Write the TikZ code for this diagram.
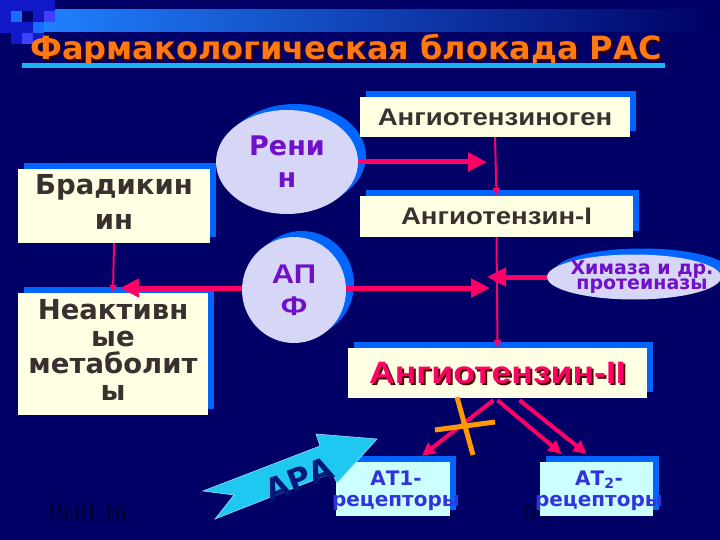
\documentclass[tikz,border=0pt]{standalone}
\usepackage{fontspec}
\setmainfont{DejaVu Sans}
\newfontfamily\arialfont[FakeStretch=1.15]{Liberation Sans}
\newfontfamily\timesfont{Liberation Serif}
\usetikzlibrary{shapes.geometric,shadows,arrows.meta}

\definecolor{bgnavy}{RGB}{0,0,102}
\definecolor{boxcream}{RGB}{255,255,228}
\definecolor{shadowblue}{RGB}{0,102,255}
\definecolor{arrowred}{RGB}{255,0,102}
\definecolor{titleorange}{RGB}{255,120,16}
\definecolor{textgray}{RGB}{58,48,48}
\definecolor{enzviolet}{RGB}{112,16,200}
\definecolor{recblue}{RGB}{51,51,221}
\definecolor{reccyan}{RGB}{204,255,255}
\definecolor{aracyan}{RGB}{30,200,240}
\definecolor{aratext}{RGB}{0,24,120}
\definecolor{xorange}{RGB}{255,153,0}
\definecolor{lavender}{RGB}{214,214,246}
\definecolor{sqmid}{RGB}{16,24,200}
\definecolor{sqbright}{RGB}{26,108,255}
\definecolor{sqlilac}{RGB}{64,64,255}
\definecolor{bandblue}{RGB}{32,128,255}

\tikzset{
  x=1pt, y=-1pt,
  sbox/.style={rectangle, fill=boxcream, inner sep=0pt, align=center,
    text=textgray, copy shadow={shadow xshift=6pt, shadow yshift=6pt,
    fill=shadowblue, draw=none}},
  enzyme/.style={ellipse, fill=lavender, inner sep=0pt, align=center,
    text=enzviolet, copy shadow={shadow xshift=8pt, shadow yshift=6pt,
    fill=shadowblue, draw=none}},
  recbox/.style={rectangle, fill=reccyan, inner sep=0pt,
    copy shadow={shadow xshift=6pt, shadow yshift=6pt, fill=shadowblue, draw=none}},
  rectext/.style={align=center, text=recblue, inner sep=0pt,
    font=\fontsize{20}{21}\selectfont\bfseries},
  bigarrow/.style={draw=arrowred, line width=5pt, -{Triangle[length=19pt,width=18pt]}},
  thinarrow/.style={draw=arrowred, line width=2pt, -{Triangle[length=8pt,width=7pt]}},
  midarrow/.style={draw=arrowred, line width=4pt, -{Triangle[length=13pt,width=13pt]}},
}

\begin{document}
\begin{tikzpicture}
\fill[bgnavy] (0,0) rectangle (720,540);
\useasboundingbox (0,0) rectangle (720,540);

% corner squares and band
\shade[left color=bandblue, right color=bgnavy] (42,10) rectangle (715,32);
\fill[sqmid] (0,0) rectangle (44,44);
\fill[sqmid] (44,0) rectangle (55,11);
\fill[sqbright] (11,11) rectangle (22,22);
\fill[bgnavy] (22,11) rectangle (33,22);
\fill[sqlilac] (44,11) rectangle (55,22);
\fill[sqbright] (33,22) rectangle (44,33);
\fill[sqlilac] (22,33) rectangle (33,44);
\fill[bgnavy] (0,33) rectangle (11,44);

% title
\node[text=black!80!red, font=\fontsize{32}{32}\selectfont\bfseries] at (348,52) {Фармакологическая блокада РАС};
\node[text=titleorange, font=\fontsize{32}{32}\selectfont\bfseries] (title) at (346,50) {Фармакологическая блокада РАС};
\fill[cyan!90!white] (22,63) rectangle (665,68);

% boxes
\node[enzyme, minimum width=142pt, minimum height=104pt,
  font=\fontsize{27}{32}\selectfont\bfseries] (renin) at (287,162) {Рени\\н};
\node[sbox, minimum width=270pt, minimum height=40pt,
  font=\fontsize{24}{26}\selectfont\arialfont\bfseries] (agen) at (495,117) {Ангиотензиноген};
\node[sbox, minimum width=273pt, minimum height=41pt,
  font=\fontsize{24}{26}\selectfont\arialfont\bfseries] (ang1) at (496.5,216.5) {Ангиотензин-I};
\node[sbox, minimum width=192pt, minimum height=74pt,
  font=\fontsize{27.5}{35}\selectfont\bfseries] (brad) at (114,206) {Брадикин\\ин\rule[-9pt]{0pt}{1pt}};
\node[enzyme, minimum width=104pt, minimum height=106pt,
  font=\fontsize{27}{32}\selectfont\arialfont\bfseries] (apf) at (294,290) {АП\\Ф};
\node[sbox, minimum width=190pt, minimum height=122pt,
  font=\fontsize{27.5}{27}\selectfont\bfseries] (inact) at (113,354) {Неактивн\\ые\\метаболит\\ы\rule[-9pt]{0pt}{1pt}};
\node[enzyme, minimum width=174pt, minimum height=45pt] (chym) at (634,277) {};
\node[text=enzviolet, align=center, inner sep=0pt,
  font=\fontsize{19}{13.5}\selectfont\bfseries] (chymtxt) at (642,277) {Химаза и др.\\протеиназы};
\node[sbox, minimum width=299pt, minimum height=50pt] (ang2) at (497.5,373) {};
\node[text=black!70!red, font=\fontsize{31}{31}\selectfont\arialfont\bfseries] at (499.5,375) {Ангиотензин-II};
\node[text=arrowred, font=\fontsize{31}{31}\selectfont\arialfont\bfseries] (ang2txt) at (ang2) {Ангиотензин-II};

% free ends
\coordinate (j1) at (487,162);
\coordinate (j2) at (490,288);
\coordinate (j3) at (487,277);
\coordinate (j4) at (120,288);

% arrows
\draw[bigarrow] (renin.east) -- (j1);
\draw[thinarrow] (agen.south) -- (ang1.north);
\draw[thinarrow] (brad.south) -- (inact.north);
\draw[bigarrow] ([yshift=2pt]apf.west) -- (j4);
\draw[bigarrow] ([yshift=2pt]apf.east) -- (j2);
\draw[bigarrow] (chym.west) -- (j3);
\draw[thinarrow] (ang1.south) -- (ang2.north);

% page number and date
\node[text=black!85!blue, font=\fontsize{23}{23}\selectfont\timesfont] (page) at (536,513) {93};
\node[text=black!85!blue, font=\fontsize{23}{23}\selectfont\timesfont] (date) at (86,513) {19.01.16};

% receptors
\node[recbox, minimum width=114pt, minimum height=54pt] (at1) at (393,489) {};
\node[rectext] (at1txt) at (396,491) {АТ1-\\рецепторы};
\node[recbox, minimum width=113pt, minimum height=54pt] (at2) at (596.5,489) {};
\node[rectext] (at2txt) at (599,491) {АТ$_{\mathbf 2}$-\\рецепторы};

\draw[midarrow] ([xshift=-4pt,yshift=-2pt]ang2.south) -- ([xshift=29pt,yshift=6pt]at1.north);
\draw[midarrow] ([yshift=-2pt]ang2.south) -- ([xshift=-35pt,yshift=8pt]at2.north);
\draw[midarrow] ([xshift=22pt,yshift=-2pt]ang2.south) -- ([xshift=-10pt,yshift=8pt]at2.north);

% blocked path
\draw[xorange, line width=5pt] (457,397) -- (473,455);
\draw[xorange, line width=5pt] (435,430) -- (495,422);

% ARA arrow
\filldraw[fill=aracyan, draw=cyan!40!white, line width=0.6pt]
  (203,491) -- (320,446) -- (316,434) -- (377,439) -- (337,483)
  -- (332,473) -- (215,519) -- (234,495) -- cycle;
\node[text=aratext, rotate=21, font=\fontsize{31}{31}\selectfont\bfseries] (ara) at (299,479) {АРА};
\end{tikzpicture}
\end{document}
